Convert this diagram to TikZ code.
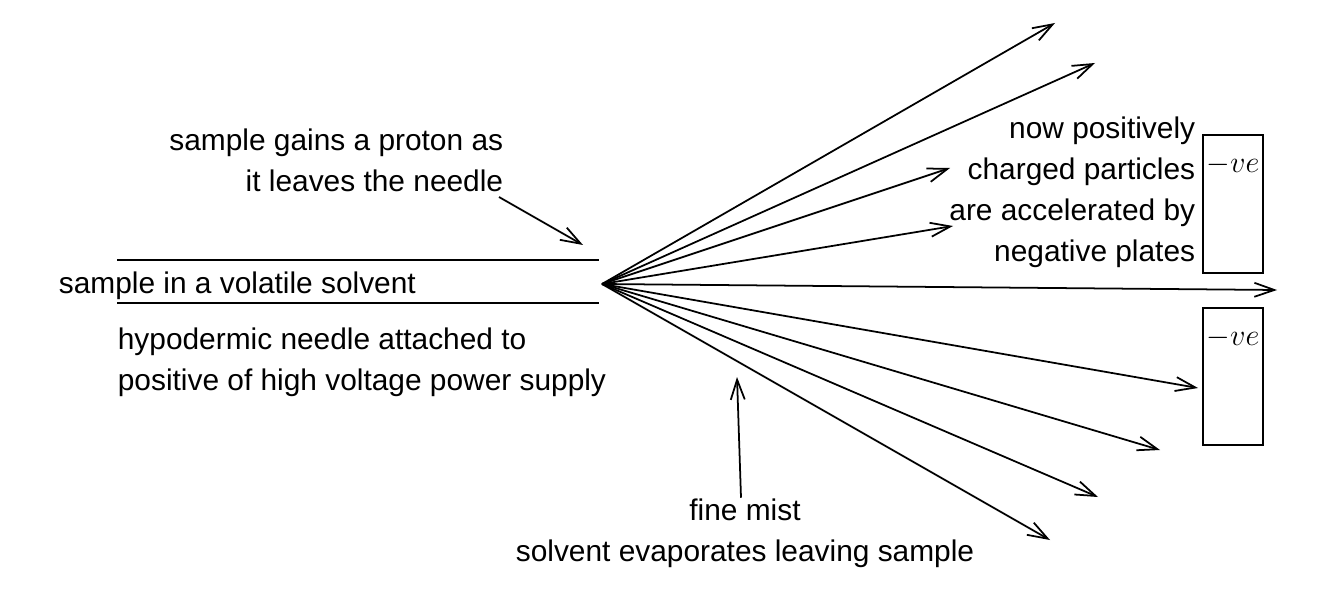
\documentclass[tikz,border=0pt]{standalone}
\usepackage{fontspec}
\setmainfont{Liberation Sans}
\usetikzlibrary{positioning, arrows.meta}

\begin{document}
\begin{tikzpicture}[x=0.02cm, y=-0.02cm, line width=1pt,
		>={Straight Barb[length=4mm, width=2.8mm]},
		txt/.style={font=\fontsize{17}{23.3}\selectfont, inner sep=0pt},
		vetxt/.style={font=\fontsize{18}{22}\selectfont, inner sep=0pt, anchor=base},
		plate/.style={shape=rectangle, draw, minimum width=1.2cm, inner sep=0pt}]
		\useasboundingbox (0,0) rectangle (1324,604);

		% Needle
		\coordinate (n1a) at (117,260);
		\coordinate (n1b) at (599,260);
		\coordinate (n2a) at (117,303);
		\coordinate (n2b) at (599,303);
		\coordinate (tip) at (602,284);
		\draw (n1a) -- (n1b);
		\draw (n2a) -- (n2b);
		\node[txt, anchor=west] (solvent) at (58,286) {sample in a volatile solvent};
		\node[txt, anchor=west, align=left] (needle) at (117,362) {hypodermic needle attached to\\positive of high voltage power supply};

		% Proton
		\node[txt, anchor=east, align=right] (proton) at (504,160) {sample gains a proton as\\it leaves the needle};
		\coordinate (p0) at (499,197);
		\coordinate (p1) at (583,245);
		\draw[->] (p0) -- (p1);

		% Spray
		\foreach \name/\x/\y in {s1/1055/23, s2/1095/63, s3/950/168, s4/953/226, s5/1277/290, s6/1198/388, s7/1160/450, s8/1098/497, s9/1050/540} {
			\coordinate (\name) at (\x,\y);
			\draw[->] (tip) -- (\name);
		}

		% Plates
		\node[plate, minimum height=2.76cm] (plate1) at (1233,204) {};
		\node[plate, minimum height=2.74cm] (plate2) at (1233,376.5) {};
		\node[vetxt] (ve1) at ([yshift=-0.76cm]plate1.north) {$-ve$};
		\node[vetxt] (ve2) at ([yshift=-0.76cm]plate2.north) {$-ve$};
		\node[txt, anchor=east, align=right] (charged) at (1196,192) {now positively\\charged particles\\are accelerated by\\negative plates};

		% Mist
		\node[txt, align=center] (mist) at (745,533) {fine mist\\solvent evaporates leaving sample};
		\coordinate (m1) at (737,377);
		\draw[->] ([xshift=-0.8mm]mist.north) -- (m1);
	\end{tikzpicture}
\end{document}
